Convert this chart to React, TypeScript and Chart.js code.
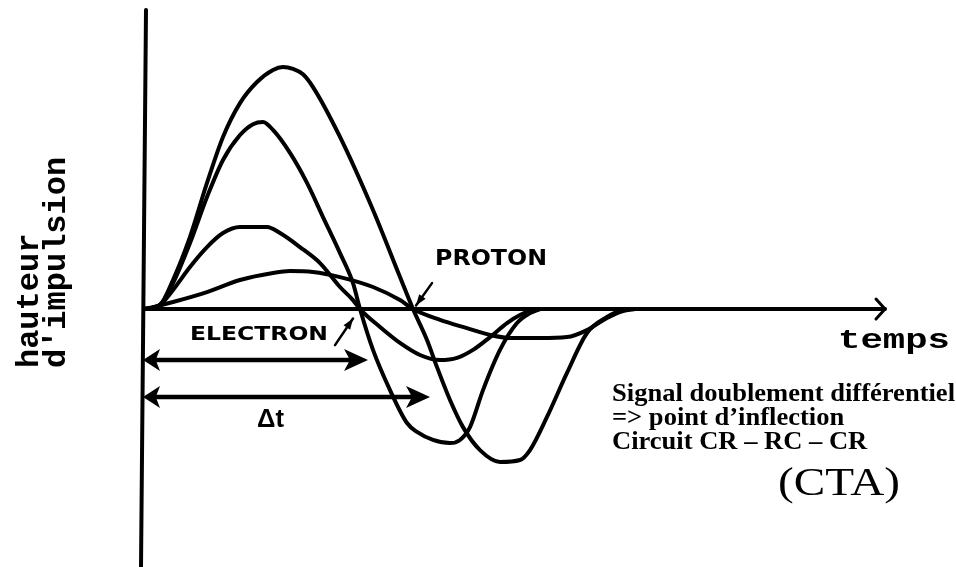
import React, { useEffect, useRef } from "react";
import { Chart, registerables } from "chart.js";

Chart.register(...registerables);

const W = 956;
const H = 567;

// ---- data: time (arbitrary units, 0 = start of pulse), amplitude (% of largest proton pulse)
const protonHighT = [0, 1.6, 2.9, 4.6, 6.3, 7.9, 9.6, 11.3, 12.9, 13.9, 14.9, 15.9, 16.9, 19.6, 22.9, 25.6, 26.9, 28.3, 29.3, 30.6, 31.9, 33.6, 35.6, 37.6, 38.6, 40.3, 42.3, 44.3, 46.3, 47.9, 49.1];
const protonHighA = [0, 1.7, 12.0, 29.8, 52.1, 71.1, 85.1, 93.8, 98.8, 100, 99.2, 97.0, 91.7, 71.1, 40.9, 13.2, 0, -12.8, -24.0, -37.6, -48.8, -58.3, -63.2, -62.4, -58.3, -44.6, -26.4, -9.9, -3.3, -0.4, 0];

const electronHighT = [0, 1.6, 2.9, 4.6, 6.3, 7.9, 9.6, 10.9, 11.9, 12.9, 14.6, 16.3, 17.9, 19.6, 20.9, 21.6, 22.9, 24.6, 26.3, 27.3, 28.9, 30.6, 31.6, 32.6, 33.9, 35.6, 37.3, 38.6, 39.6];
const electronHighA = [0, 1.7, 10.7, 27.3, 46.3, 61.6, 71.9, 76.4, 77.3, 74.0, 64.5, 52.1, 38.0, 23.1, 10.7, 0, -16.9, -33.5, -47.1, -50.8, -54.1, -55.4, -54.1, -48.8, -33.5, -16.9, -5.8, -1.7, 0];

const electronLowT = [0, 1.6, 2.9, 4.6, 6.3, 7.9, 9.6, 12.3, 13.6, 15.6, 17.6, 19.6, 20.9, 21.6, 23.6, 25.6, 27.6, 29.6, 31.3, 32.9, 34.6, 36.3, 37.6, 38.6, 39.6];
const electronLowA = [0, 1.7, 7.9, 17.4, 25.6, 31.4, 33.9, 33.9, 31.4, 25.6, 19.0, 9.1, 3.7, 0, -7.4, -14.0, -19.0, -21.1, -20.2, -16.9, -11.6, -5.8, -2.5, -0.8, 0];

const protonLowT = [0, 0.9, 2.9, 6.3, 9.6, 12.9, 14.6, 16.9, 19.6, 22.9, 25.6, 26.9, 29.6, 32.3, 34.6, 36.9, 39.6, 42.3, 44.3, 46.3, 47.9, 49.1];
const protonLowA = [0, 0.8, 2.9, 7.0, 12.0, 14.9, 15.7, 15.3, 13.2, 9.1, 3.7, 0, -4.5, -7.9, -10.7, -12.0, -12.0, -11.6, -8.7, -3.7, -0.8, 0];

// Δt markers (time at arrow tip, amplitude level of arrow)
const deltaElectron = { t: 22.4, a: -21.1 };
const deltaProton = { t: 28.6, a: -36.4 };

// axis extents
const T_MIN = -14.4, T_MAX = 81.2, A_MIN = -106.6, A_MAX = 127.7;
const T_AXIS_END = 74.1;
const A_AXIS_TOP = 123.6;

const yLabelLines = ["hauteur", "d'impulsion"];
const textLines = ["Signal doublement différentiel", "=> point d\u2019inflection", "Circuit CR \u2013 RC \u2013 CR"];

const zip = (t: number[], a: number[]) => t.map((v, i) => ({ x: v, y: a[i] }));

function txt(ctx: CanvasRenderingContext2D, s: string, x: number, y: number, font: string, sx = 1, sy = 1) {
  ctx.save();
  ctx.font = font;
  ctx.textAlign = "left";
  ctx.textBaseline = "alphabetic";
  ctx.translate(x, y);
  ctx.scale(sx, sy);
  ctx.fillText(s, 0, 0);
  ctx.restore();
}
function fitScale(ctx: CanvasRenderingContext2D, s: string, font: string, w: number) {
  ctx.save();
  ctx.font = font;
  const m = ctx.measureText(s).width;
  ctx.restore();
  return w / m;
}
function head(ctx: CanvasRenderingContext2D, tx: number, ty: number, dir: number, len = 22, half = 10) {
  ctx.beginPath();
  ctx.moveTo(tx, ty);
  ctx.lineTo(tx - dir * len, ty - half);
  ctx.lineTo(tx - dir * len * 0.75, ty);
  ctx.lineTo(tx - dir * len, ty + half);
  ctx.closePath();
  ctx.fill();
}
function leader(ctx: CanvasRenderingContext2D, x1: number, y1: number, x2: number, y2: number) {
  ctx.lineWidth = 2.5;
  ctx.beginPath();
  ctx.moveTo(x1, y1);
  ctx.lineTo(x2, y2);
  ctx.stroke();
  const ang = Math.atan2(y2 - y1, x2 - x1);
  const L = 11, hw = 4;
  const bx = x2 - Math.cos(ang) * L, by = y2 - Math.sin(ang) * L;
  ctx.beginPath();
  ctx.moveTo(x2, y2);
  ctx.lineTo(bx + Math.sin(ang) * hw, by - Math.cos(ang) * hw);
  ctx.lineTo(bx - Math.sin(ang) * hw, by + Math.cos(ang) * hw);
  ctx.closePath();
  ctx.fill();
}

const overlay = {
  id: "overlay",
  beforeDraw(chart: any) {
    const c = chart.ctx as CanvasRenderingContext2D;
    c.save();
    c.fillStyle = "#fff";
    c.fillRect(0, 0, chart.width, chart.height);
    c.restore();
  },
  afterDatasetsDraw(chart: any) {
    const ctx = chart.ctx as CanvasRenderingContext2D;
    const xs = chart.scales.x, ys = chart.scales.y;
    const px = (v: number) => xs.getPixelForValue(v);
    const py = (v: number) => ys.getPixelForValue(v);
    ctx.save();
    ctx.strokeStyle = "#000";
    ctx.fillStyle = "#000";
    ctx.lineCap = "round";
    ctx.lineJoin = "round";

    // axes
    ctx.lineWidth = 4;
    ctx.beginPath();
    ctx.moveTo(px(0) + 2, py(A_AXIS_TOP));
    ctx.lineTo(px(0) - 3, py(A_MIN));
    ctx.stroke();
    ctx.beginPath();
    ctx.moveTo(px(0), py(0));
    ctx.lineTo(px(T_AXIS_END), py(0));
    ctx.stroke();
    ctx.lineWidth = 3;
    ctx.beginPath();
    ctx.moveTo(px(T_AXIS_END) - 9, py(0) - 10);
    ctx.lineTo(px(T_AXIS_END), py(0));
    ctx.lineTo(px(T_AXIS_END) - 9, py(0) + 10);
    ctx.stroke();

    // Δt arrows
    for (const d of [deltaElectron, deltaProton]) {
      const y0 = py(d.a);
      ctx.lineWidth = 4.5;
      ctx.beginPath();
      ctx.moveTo(px(0) + 10, y0);
      ctx.lineTo(px(d.t) - 15, y0);
      ctx.stroke();
      head(ctx, px(d.t), y0, 1, 24, 11);
      head(ctx, px(0) - 1, y0, -1, 17, 11);
    }

    // leaders
    leader(ctx, px(28.8), py(10.7), px(27.2), py(1.5));
    leader(ctx, px(19.1), py(-14.9), px(20.9), py(-3.9));

    // labels
    const sans = 'bold 22px "DejaVu Sans"';
    txt(ctx, "PROTON", px(29.1), py(18.2), sans, fitScale(ctx, "PROTON", sans, 112), 0.95);
    txt(ctx, "ELECTRON", px(4.6), py(-12.8), sans, fitScale(ctx, "ELECTRON", sans, 138), 0.9);
    const dt = 'bold 25px "Liberation Sans"';
    txt(ctx, "\u0394t", px(11.3), py(-48.8), dt, fitScale(ctx, "\u0394t", dt, 27));

    const mono = 'bold 30px "Liberation Mono"';
    txt(ctx, "temps", px(69.4), py(-16.1), mono, fitScale(ctx, "temps", mono, 112), 0.9);

    // rotated y label
    const monoB = 'bold 32px "Liberation Mono"';
    yLabelLines.forEach((s, i) => {
      ctx.save();
      ctx.translate(px(-10.6 + i * 2.7), py(-24.4));
      ctx.rotate(-Math.PI / 2);
      ctx.font = monoB;
      ctx.fillText(s, 0, 0);
      ctx.restore();
    });

    // right notes
    const serif = 'bold 25px "Liberation Serif"';
    const sx = fitScale(ctx, textLines[0], serif, 343);
    const bases = [-38.0, -47.9, -57.9];
    textLines.forEach((s, i) => {
      txt(ctx, s, px(46.8), py(bases[i]), serif, sx);
    });
    const cta = '40px "Liberation Serif"';
    txt(ctx, "(CTA)", px(63.4), py(-76.9), cta, fitScale(ctx, "(CTA)", cta, 122));
    ctx.restore();
  },
};

export default function App() {
  const ref = useRef<HTMLCanvasElement>(null);
  useEffect(() => {
    document.body.style.margin = "0";
    const mk = (t: number[], a: number[]) => ({
      data: zip(t, a),
      borderColor: "#000",
      borderWidth: 4,
      pointRadius: 0,
      fill: false,
      cubicInterpolationMode: "monotone" as const,
    });
    const chart = new Chart(ref.current!, {
      type: "line",
      data: {
        datasets: [
          mk(protonHighT, protonHighA),
          mk(electronHighT, electronHighA),
          mk(electronLowT, electronLowA),
          mk(protonLowT, protonLowA),
        ],
      },
      options: {
        responsive: false,
        animation: false,
        devicePixelRatio: 1,
        events: [],
        layout: { padding: 0, autoPadding: false } as any,
        plugins: { legend: { display: false }, tooltip: { enabled: false } },
        scales: {
          x: { type: "linear", min: T_MIN, max: T_MAX, display: false },
          y: { type: "linear", min: A_MIN, max: A_MAX, display: false },
        },
      },
      plugins: [overlay as any],
    });
    return () => chart.destroy();
  }, []);
  return (
    <div style={{ position: "absolute", left: 0, top: 0, width: W, height: H, background: "#fff" }}>
      <canvas ref={ref} width={W} height={H} style={{ display: "block", width: W, height: H }} />
    </div>
  );
}
